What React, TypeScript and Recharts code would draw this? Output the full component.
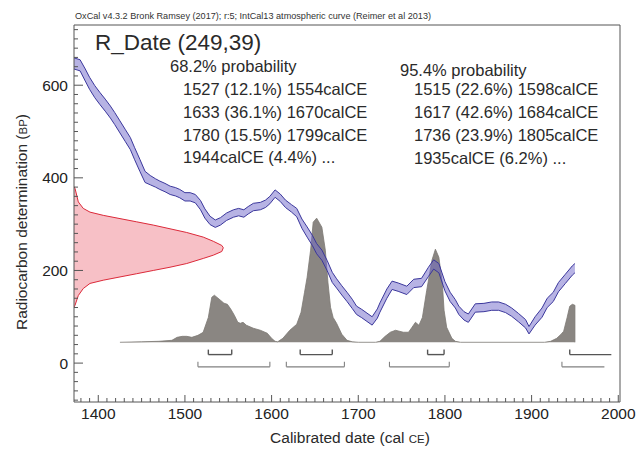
import React from "react"
import { ComposedChart, Area, XAxis, YAxis, ReferenceLine } from "recharts"

const W = 636
const H = 458
const FONT = '"Liberation Sans", Arial, Helvetica, sans-serif'
const AXIS = "#555"
const TEXT = "#2a2a2a"

// IntCal13 calibration curve, cal CE against radiocarbon age (BP), 1 sigma band
const calYears = [
  1372, 1379, 1385, 1390, 1396, 1402, 1408, 1414, 1419, 1425, 1431, 1437, 1442, 1448, 1454, 1460,
  1466, 1471, 1477, 1483, 1489, 1494, 1500, 1506, 1512, 1518, 1523, 1529, 1535, 1541, 1548, 1556,
  1562, 1568, 1573, 1579, 1587, 1593, 1598, 1604, 1610, 1616, 1623, 1629, 1635, 1641, 1647, 1652,
  1658, 1664, 1670, 1675, 1681, 1687, 1693, 1698, 1704, 1710, 1716, 1722, 1725, 1733, 1739, 1746,
  1756, 1764, 1773, 1781, 1787, 1793, 1800, 1806, 1812, 1816, 1822, 1827, 1835, 1845, 1854, 1862,
  1870, 1877, 1885, 1893, 1897, 1904, 1912, 1918, 1925, 1931, 1939, 1947, 1950,
]
const calHigh = [
  659, 655, 635, 617, 599, 584, 570, 555, 541, 523, 505, 487, 465, 440, 414, 405,
  398, 393, 388, 382, 379, 375, 368, 368, 364, 351, 333, 317, 309, 314, 324, 331,
  334, 331, 338, 345, 347, 352, 360, 374, 365, 352, 342, 334, 311, 294, 276, 258,
  244, 222, 196, 182, 167, 153, 138, 123, 116, 108, 100, 117, 130, 160, 177, 173,
  166, 181, 183, 207, 223, 215, 176, 153, 137, 123, 111, 106, 128, 129, 132, 132,
  127, 119, 107, 94, 79, 100, 119, 140, 153, 174, 192, 210, 215,
]
const calLow = [
  635, 631, 609, 591, 573, 558, 544, 529, 515, 497, 479, 461, 439, 414, 390, 385,
  380, 375, 370, 364, 361, 357, 350, 350, 346, 331, 313, 299, 293, 298, 308, 315,
  318, 315, 322, 329, 331, 336, 344, 358, 349, 336, 326, 316, 291, 272, 254, 236,
  222, 200, 174, 162, 147, 133, 118, 105, 98, 90, 82, 97, 110, 140, 159, 155,
  148, 163, 165, 187, 203, 195, 156, 133, 119, 105, 93, 88, 110, 111, 114, 114,
  109, 101, 89, 76, 63, 82, 99, 120, 133, 154, 172, 190, 195,
]

// calibrated date probability (relative, tallest peak = 1)
const probYears = [
  1425, 1450, 1470, 1485, 1491, 1497, 1502, 1508, 1515, 1521, 1527, 1531, 1534, 1541, 1545, 1549,
  1553, 1557, 1561, 1564, 1567, 1571, 1579, 1587, 1595, 1600, 1604, 1607, 1613, 1621, 1629, 1634,
  1638, 1641, 1645, 1648, 1652, 1658, 1662, 1665, 1668, 1671, 1675, 1681, 1687, 1693, 1700, 1720,
  1725, 1731, 1737, 1743, 1752, 1758, 1762, 1766, 1770, 1774, 1779, 1785, 1789, 1793, 1797, 1799,
  1802, 1808, 1812, 1818, 1915, 1922, 1929, 1934, 1937, 1941, 1944, 1947, 1950, 1950,
]
const probValues = [
  0, 0.004, 0.008, 0.016, 0.04, 0.048, 0.048, 0.04, 0.056, 0.08, 0.2, 0.363, 0.379, 0.339, 0.315, 0.306,
  0.266, 0.218, 0.161, 0.153, 0.161, 0.137, 0.113, 0.097, 0.073, 0.032, 0.008, 0.004, 0.032, 0.097, 0.145, 0.242,
  0.403, 0.524, 0.742, 0.968, 1.0, 0.927, 0.742, 0.484, 0.282, 0.2, 0.153, 0.065, 0.016, 0.004, 0, 0,
  0.008, 0.048, 0.081, 0.097, 0.081, 0.081, 0.121, 0.161, 0.137, 0.2, 0.419, 0.661, 0.75, 0.685, 0.476, 0.258,
  0.121, 0.032, 0.008, 0, 0, 0.008, 0.032, 0.065, 0.089, 0.2, 0.29, 0.306, 0.298, 0,
]

// R_Date 249±39 drawn along the radiocarbon axis
const rDateBP = [
  121, 125, 146, 161, 172, 179, 186, 193, 200, 207, 215, 226, 233, 241, 249,
  254, 263, 272, 282, 290, 298, 305, 312, 319, 326, 334, 348, 377, 381,
]
const rDateDensity = [
  0, 0.007, 0.029, 0.062, 0.107, 0.196, 0.308, 0.42, 0.531, 0.643, 0.755, 0.866, 0.933, 0.99, 1.0,
  0.99, 0.933, 0.866, 0.755, 0.643, 0.531, 0.42, 0.308, 0.196, 0.107, 0.062, 0.029, 0.007, 0,
]

// ranges (last ones run on past the plotted curve)
const range68 = [[1527, 1554], [1633, 1670], [1780, 1799], [1944, 1992]]
const range68Open = [false, false, false, true]
const range95 = [[1515, 1598], [1617, 1684], [1736, 1805], [1935, 1984]]
const range95Open = [false, false, false, true]

const prob68Lines = ["1527 (12.1%) 1554calCE", "1633 (36.1%) 1670calCE", "1780 (15.5%) 1799calCE", "1944calCE (4.4%) ..."]
const prob95Lines = ["1515 (22.6%) 1598calCE", "1617 (42.6%) 1684calCE", "1736 (23.9%) 1805calCE", "1935calCE (6.2%) ..."]

const X_DOMAIN = [1372, 2002]
const Y_DOMAIN = [-84, 730]
const P_DOMAIN = [-0.481, 2.556]

const steps = (from: number, to: number, step: number) => {
  const out: number[] = []
  for (let v = from; v <= to; v += step) out.push(v)
  return out
}
// minor ticks every 10 years / 20 BP, labelled every 100 / 200
const xTicks = steps(1380, 2000, 10)
const yTicks = steps(-80, 720, 20)

const calData = calYears.map((year, i) => ({ year, band: [calLow[i], calHigh[i]] }))
const probData = probYears.map((year, i) => ({ year, p: probValues[i] }))
const rDateData = rDateBP.map((bp, i) => ({ bp, d: rDateDensity[i] }))

const tickText = { fill: "#222", fontSize: 15.5, fontFamily: FONT }

// inward tick marks, longer on labelled values
const XTick = ({ x, y, payload }: any) => {
  const v = payload.value
  const major = v % 100 === 0
  return (
    <g>
      <line x1={x} x2={x} y1={y - 6} y2={y - 6 - (major ? 7 : 4)} stroke={AXIS} />
      {major && <text x={x} y={y} dy="0.71em" textAnchor="middle" {...tickText}>{v}</text>}
    </g>
  )
}
const YTick = ({ x, y, payload }: any) => {
  const v = payload.value
  const major = v % 200 === 0
  return (
    <g>
      <line x1={x + 6} x2={x + 6 + (major ? 9 : 4)} y1={y} y2={y} stroke={AXIS} />
      {major && <text x={x} y={y} dy="0.355em" textAnchor="end" {...tickText}>{v}</text>}
    </g>
  )
}

function brackets(ranges: number[][], open: boolean[], level: number, top: number, color: string, width: number, tag: string) {
  const out: React.ReactNode[] = []
  ranges.forEach(([a, b], i) => {
    const common = { xAxisId: "main", yAxisId: "p", stroke: color, strokeWidth: width, ifOverflow: "visible" as const }
    out.push(<ReferenceLine key={`${tag}-l${i}`} {...common} segment={[{ x: a, y: top }, { x: a, y: level }]} />)
    out.push(<ReferenceLine key={`${tag}-h${i}`} {...common} segment={[{ x: a, y: level }, { x: b, y: level }]} />)
    if (!open[i]) out.push(<ReferenceLine key={`${tag}-r${i}`} {...common} segment={[{ x: b, y: level }, { x: b, y: top }]} />)
  })
  return out
}

const layer: React.CSSProperties = { position: "absolute", left: 0, top: 0 }

export default function App() {
  return (
    <div style={{ position: "absolute", left: 0, top: 0, width: W, height: H, background: "#fff", overflow: "hidden" }}>
      {/* R_Date likelihood, drawn sideways */}
      <div style={layer}>
        <ComposedChart layout="vertical" width={W} height={H} data={rDateData} margin={{ top: 25, right: 16, bottom: 56, left: 74 }}>
          <XAxis type="number" dataKey="d" domain={[0, 3.657]} allowDataOverflow hide />
          <YAxis type="number" dataKey="bp" domain={Y_DOMAIN} allowDataOverflow reversed hide />
          <Area type="linear" dataKey="d" baseValue={0} stroke="#dc2a3a" strokeWidth={1} fill="#f6b9c0" fillOpacity={0.9} isAnimationActive={false} dot={false} activeDot={false} />
        </ComposedChart>
      </div>

      <div style={layer}>
        <ComposedChart width={W} height={H} margin={{ top: 25, right: 16, bottom: 26, left: 34 }}>
          <XAxis xAxisId="main" type="number" dataKey="year" domain={X_DOMAIN} allowDataOverflow ticks={xTicks} interval={0}
            height={30} tickLine={false} tickSize={0} tickMargin={6} axisLine={{ stroke: AXIS }} tick={<XTick />} />
          <YAxis yAxisId="bp" type="number" domain={Y_DOMAIN} allowDataOverflow ticks={yTicks} interval={0}
            width={40} tickLine={false} tickSize={0} tickMargin={6} axisLine={{ stroke: AXIS }} tick={<YTick />} />
          <YAxis yAxisId="p" type="number" domain={P_DOMAIN} allowDataOverflow hide />

          <Area xAxisId="main" yAxisId="p" data={probData} dataKey="p" type="linear" baseValue={0}
            stroke="#7c7874" strokeWidth={0.8} fill="#8a8682" fillOpacity={1} isAnimationActive={false} dot={false} activeDot={false} />
          <Area xAxisId="main" yAxisId="bp" data={calData} dataKey="band" type="linear"
            stroke="#3b379c" strokeWidth={1} fill="#6f67c9" fillOpacity={0.5} isAnimationActive={false} dot={false} activeDot={false} />

          {brackets(range68, range68Open, -0.099, -0.059, "#555", 1.4, "r68")}
          {brackets(range95, range95Open, -0.198, -0.157, "#808080", 1.1, "r95")}

          {/* top and right edges of the frame */}
          <ReferenceLine xAxisId="main" yAxisId="bp" y={Y_DOMAIN[1]} stroke={AXIS} ifOverflow="visible" />
          <ReferenceLine xAxisId="main" yAxisId="bp" x={X_DOMAIN[1]} stroke={AXIS} ifOverflow="visible" />
        </ComposedChart>
      </div>

      <svg width={W} height={H} style={{ ...layer, pointerEvents: "none" }} fontFamily={FONT}>
        <text x={75} y={19} fontSize={9.5} fill="#333" textLength={356} lengthAdjust="spacingAndGlyphs">
          OxCal v4.3.2 Bronk Ramsey (2017); r:5; IntCal13 atmospheric curve (Reimer et al 2013)
        </text>
        <text x={95} y={50} fontSize={22.5} fill={TEXT}>R_Date (249,39)</text>

        <text x={170} y={72} fontSize={16.5} fill={TEXT}>68.2% probability</text>
        {prob68Lines.map((s, i) => (
          <text key={s} x={183} y={95 + i * 22.8} fontSize={16.5} fill={TEXT}>{s}</text>
        ))}
        <text x={400} y={76} fontSize={16.5} fill={TEXT}>95.4% probability</text>
        {prob95Lines.map((s, i) => (
          <text key={s} x={414} y={95 + i * 23} fontSize={16.5} fill={TEXT}>{s}</text>
        ))}

        <text transform="translate(27,222) rotate(-90)" textAnchor="middle" fontSize={15.5} fill={TEXT}>
          Radiocarbon determination (<tspan fontSize={11.5}>BP</tspan>)
        </text>
        <text x={350} y={443} textAnchor="middle" fontSize={15.5} fill={TEXT}>
          Calibrated date (cal <tspan fontSize={11.5}>CE</tspan>)
        </text>
      </svg>
    </div>
  )
}
